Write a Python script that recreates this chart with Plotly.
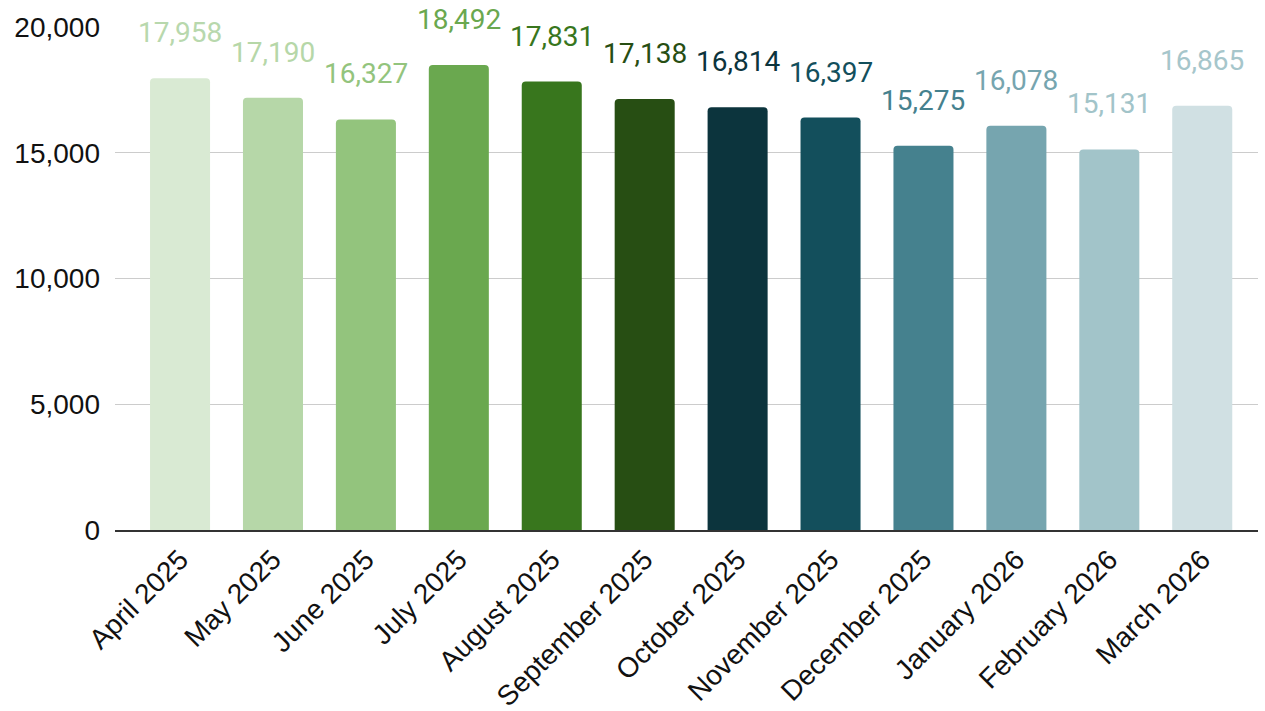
import plotly.graph_objects as go

months = ["April 2025", "May 2025", "June 2025", "July 2025", "August 2025",
          "September 2025", "October 2025", "November 2025", "December 2025",
          "January 2026", "February 2026", "March 2026"]
values = [17958, 17190, 16327, 18492, 17831, 17138, 16814, 16397, 15275,
          16078, 15131, 16865]
colors = ["#d9ead3", "#b6d7a8", "#93c47d", "#6aa84f", "#38761d", "#274e13",
          "#0c343d", "#134f5c", "#45818e", "#76a5af", "#a2c4c9", "#d0e0e3"]
# value labels use the bar colour, nudged darker for the palest bars
label_colors = ["#b8d8ad", "#b6d7a8", "#93c47d", "#6aa84f", "#38761d", "#274e13",
                "#0c343d", "#134f5c", "#45818e", "#76a5af", "#a2c4c9", "#a6c6cb"]
y_ticks = [0, 5000, 10000, 15000, 20000]

fig = go.Figure(go.Bar(
    x=months, y=values,
    marker=dict(color=colors, line=dict(width=0), cornerradius=4),
    width=0.646,
    hoverinfo="x+y",
))

for m, v, c in zip(months, values, label_colors):
    fig.add_annotation(
        x=m, y=v, text=f"{v:,}", showarrow=False,
        yanchor="bottom", yshift=27,
        font=dict(family="Roboto", size=28, color=c),
    )

fig.update_layout(
    width=1265, height=711,
    margin=dict(l=115, r=7, t=27, b=181),
    plot_bgcolor="white", paper_bgcolor="white",
    showlegend=False,
    xaxis=dict(
        range=[-0.7, 11.6],
        tickangle=-45,
        tickfont=dict(family="Liberation Sans, Arial", size=28, color="#111"),
        showgrid=False,
        showline=True, linecolor="#333333", linewidth=2,
        ticks="",
        automargin=False,
    ),
    yaxis=dict(
        range=[0, 20000],
        tickvals=y_ticks,
        tickformat=",d",
        tickfont=dict(family="Liberation Sans, Arial", size=28, color="#111"),
        showgrid=True, gridcolor="#cccccc", gridwidth=1,
        zeroline=False, showline=False,
        ticklabelstandoff=14,
        automargin=False,
    ),
)

fig.write_html("out.html")
